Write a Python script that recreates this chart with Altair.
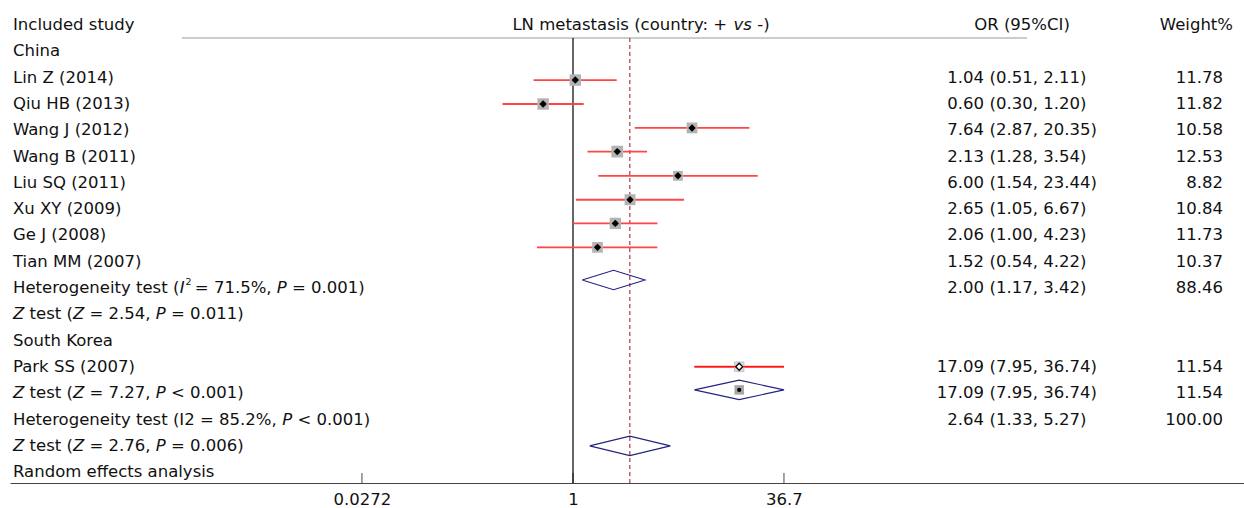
import math
import altair as alt
import pandas as pd

FONT = "DejaVu Sans"
FS = 16.5
SUP_FS = 9.5

# ---------------- data ----------------
study_names = ["Lin Z (2014)", "Qiu HB (2013)", "Wang J (2012)", "Wang B (2011)",
               "Liu SQ (2011)", "Xu XY (2009)", "Ge J (2008)", "Tian MM (2007)"]
study_or = [1.04, 0.60, 7.64, 2.13, 6.00, 2.65, 2.06, 1.52]
study_lo = [0.51, 0.30, 2.87, 1.28, 1.54, 1.05, 1.00, 0.54]
study_hi = [2.11, 1.20, 20.35, 3.54, 23.44, 6.67, 4.23, 4.22]
study_w = [11.78, 11.82, 10.58, 12.53, 8.82, 10.84, 11.73, 10.37]
study_text_row = [2, 3, 4, 5, 6, 7, 8, 9]
study_mark_row = [2.17, 3.08, 3.99, 4.89, 5.81, 6.72, 7.62, 8.53]

park_or, park_lo, park_hi, park_w = 17.09, 7.95, 36.74, 11.54
park_text_row, park_mark_row = 13, 13.07

pooled_names = ["China", "South Korea", "Overall"]
pooled_or = [2.00, 17.09, 2.64]
pooled_lo = [1.17, 7.95, 1.33]
pooled_hi = [3.42, 36.74, 5.27]
pooled_w = [88.46, 11.54, 100.00]
pooled_text_row = [10, 14, 15]
pooled_mark_row = [9.77, 13.95, 16.08]

tick_values = [0.0272, 1, 36.7]
null_value = 1

header_center = [("LN metastasis (country: + ", "n"), ("vs", "i"), (" -)", "n")]
header_or = "OR (95%CI)"
header_weight = "Weight%"

left_rows = [
    [("Included study", "n")],
    [("China", "n")],
    [("Lin Z (2014)", "n")],
    [("Qiu HB (2013)", "n")],
    [("Wang J (2012)", "n")],
    [("Wang B (2011)", "n")],
    [("Liu SQ (2011)", "n")],
    [("Xu XY (2009)", "n")],
    [("Ge J (2008)", "n")],
    [("Tian MM (2007)", "n")],
    [("Heterogeneity test (", "n"), ("I", "i"), ("2", "sup"), (" = 71.5%, ", "n"), ("P", "i"), (" = 0.001)", "n")],
    [("Z", "i"), (" test (", "n"), ("Z", "i"), (" = 2.54, ", "n"), ("P", "i"), (" = 0.011)", "n")],
    [("South Korea", "n")],
    [("Park SS (2007)", "n")],
    [("Z", "i"), (" test (", "n"), ("Z", "i"), (" = 7.27, ", "n"), ("P", "i"), (" < 0.001)", "n")],
    [("Heterogeneity test (I2 = 85.2%, ", "n"), ("P", "i"), (" < 0.001)", "n")],
    [("Z", "i"), (" test (", "n"), ("Z", "i"), (" = 2.76, ", "n"), ("P", "i"), (" = 0.006)", "n")],
    [("Random effects analysis", "n")],
]

# ---------------- layout helpers ----------------
W = {' ': 0.318, '%': 0.950, '(': 0.390, ')': 0.390, '+': 0.838, ',': 0.318, '-': 0.361,
     '.': 0.318, ':': 0.337, '<': 0.838, '=': 0.838, 'H': 0.752, 'I': 0.295, 'L': 0.557,
     'N': 0.748, 'P': 0.603, 'Z': 0.685, 'a': 0.613, 'c': 0.550, 'e': 0.615, 'g': 0.635,
     'i': 0.278, 'l': 0.278, 'm': 0.974, 'n': 0.634, 'o': 0.612, 'r': 0.411, 's': 0.521,
     't': 0.392, 'u': 0.634, 'v': 0.592, 'y': 0.592}
for d in "0123456789":
    W[d] = 0.636


def tw(s, fs=FS):
    return sum(W.get(c, 0.6) for c in s) * fs


PLOT_W, PLOT_H = 1234, 483
LEFT_X = 3
ROW0, ROW_H = 23.0, 26.3
TEXT_DY = 2
X_ONE = 563.0
PX_PER_LN = (784 - 362) / (math.log(36.7) - math.log(0.0272))
xmin = math.exp(-X_ONE / PX_PER_LN)
xmax = math.exp((PLOT_W - X_ONE) / PX_PER_LN)
ymin = -ROW0 / ROW_H
ymax = (PLOT_H - ROW0) / ROW_H

xscale = alt.Scale(type="log", domain=[xmin, xmax], nice=False)
yscale = alt.Scale(domain=[ymin, ymax], reverse=True, nice=False, zero=False)
xaxis = alt.Axis(values=tick_values, format="~g", title=None, grid=False, ticks=False,
                 domain=True, domainColor="#444444", domainWidth=1.2,
                 labelFont=FONT, labelFontSize=FS, labelColor="#111111",
                 labelPadding=8, labelFlush=False)

# text segments
recs = []
for r, segs in enumerate(left_rows):
    cur = LEFT_X
    for text, st in segs:
        fs = SUP_FS if st == "sup" else FS
        lead = len(text) - len(text.lstrip(" "))
        body = text.strip(" ")
        if st == "sup":
            recs.append(dict(row=r, px=cur + 1.0, text=body, style=st))
            cur += 5.0
        else:
            recs.append(dict(row=r, px=cur + tw(" " * lead, fs), text=body, style=st))
            cur += tw(text, fs)
hc_total = sum(tw(t) for t, _ in header_center)
cur = 631 - hc_total / 2
for text, st in header_center:
    lead = len(text) - len(text.lstrip(" "))
    recs.append(dict(row=0, px=cur + tw(" " * lead), text=text.strip(" "), style=st))
    cur += tw(text)
seg_df = pd.DataFrame(recs)

stat_row = study_text_row + [pooled_text_row[0], park_text_row, pooled_text_row[1], pooled_text_row[2]]
stat_or = study_or + [pooled_or[0], park_or, pooled_or[1], pooled_or[2]]
stat_lo = study_lo + [pooled_lo[0], park_lo, pooled_lo[1], pooled_lo[2]]
stat_hi = study_hi + [pooled_hi[0], park_hi, pooled_hi[1], pooled_hi[2]]
stat_w = study_w + [pooled_w[0], park_w, pooled_w[1], pooled_w[2]]
stat_df = pd.DataFrame({
    "row": stat_row,
    "est": [f"{v:.2f}" for v in stat_or],
    "ci": [f"({a:.2f}, {b:.2f})" for a, b in zip(stat_lo, stat_hi)],
    "wt": [f"{v:.2f}" for v in stat_w],
})

studies_df = pd.DataFrame({
    "name": study_names + ["Park SS (2007)"],
    "or": study_or + [park_or],
    "lo": study_lo + [park_lo],
    "hi": study_hi + [park_hi],
    "w": study_w + [park_w],
    "mrow": study_mark_row + [park_mark_row],
    "open": [False] * len(study_names) + [True],
})

H = 0.37
poly = []
for n, e, lo, hi, r in zip(pooled_names, pooled_or, pooled_lo, pooled_hi, pooled_mark_row):
    pts = [(lo, r), (e, r - H), (hi, r), (e, r + H), (lo, r)]
    for k, (xv, yv) in enumerate(pts):
        poly.append(dict(name=n, ord=k, x=xv, y=yv))
poly_df = pd.DataFrame(poly)

sk_df = pd.DataFrame({"or": [pooled_or[1]], "mrow": [pooled_mark_row[1]]})
vline_df = pd.DataFrame({"v": [null_value, pooled_or[2]], "kind": ["null", "pooled"]})
tick_df = pd.DataFrame({"v": tick_values})

# ---------------- layers ----------------
Y = lambda f: alt.Y(f, scale=yscale, axis=None)
X = lambda f: alt.X(f, scale=xscale, axis=xaxis)

ticks = alt.Chart(tick_df).mark_rule(color="#666666", strokeWidth=1.2).encode(
    x=X("v:Q"), y=alt.value(PLOT_H - 10), y2=alt.value(PLOT_H))

header_line = alt.Chart(pd.DataFrame({"a": [0]})).mark_rule(color="#bbbbbb", strokeWidth=1.5).encode(
    x=alt.value(172), x2=alt.value(1017), y=alt.value(38))

null_line = alt.Chart(vline_df).transform_filter("datum.kind == 'null'").mark_rule(
    color="#000000", strokeWidth=1.2).encode(x=X("v:Q"), y=alt.value(38), y2=alt.value(PLOT_H))
pooled_line = alt.Chart(vline_df).transform_filter("datum.kind == 'pooled'").mark_rule(
    color="#a52a2a", strokeWidth=1.1, strokeDash=[4, 3]).encode(
    x=X("v:Q"), y=alt.value(38), y2=alt.value(PLOT_H))

ci = alt.Chart(studies_df).mark_rule(color="#ff4545", strokeWidth=1.8).encode(
    x=X("lo:Q"), x2="hi:Q", y=Y("mrow:Q"))

sq = alt.Chart(studies_df).transform_filter("!datum.open").transform_calculate(
    sz="datum.w * 11").mark_square(filled=True, color="#b3b3b3", opacity=1).encode(
    x=X("or:Q"), y=Y("mrow:Q"), size=alt.Size("sz:Q", scale=None))
sq_open = alt.Chart(studies_df).transform_filter("datum.open").mark_square(
    filled=True, fill="#dcdcdc", stroke="#c4c4c4", strokeWidth=1, opacity=1, size=90).encode(
    x=X("or:Q"), y=Y("mrow:Q"))
ci_open = alt.Chart(studies_df).transform_filter("datum.open").mark_rule(
    color="#ff0000", strokeWidth=1.2).encode(x=X("lo:Q"), x2="hi:Q", y=Y("mrow:Q"))

dot = alt.Chart(studies_df).transform_filter("!datum.open").mark_point(
    shape="diamond", filled=True, color="#000000", size=55, opacity=1).encode(
    x=X("or:Q"), y=Y("mrow:Q"))
dot_open = alt.Chart(studies_df).transform_filter("datum.open").mark_point(
    shape="diamond", filled=True, fill="#ffffff", stroke="#000000", strokeWidth=1.2,
    size=50, opacity=1).encode(x=X("or:Q"), y=Y("mrow:Q"))

diamonds = alt.Chart(poly_df).mark_line(color="#22227f", strokeWidth=1.1).encode(
    x=X("x:Q"), y=Y("y:Q"), detail="name:N", order="ord:Q")

sk_sq = alt.Chart(sk_df).mark_square(filled=True, color="#a6a6a6", size=90, opacity=1).encode(
    x=X("or:Q"), y=Y("mrow:Q"))
sk_dot = alt.Chart(sk_df).mark_point(shape="circle", filled=True, color="#000000", size=18,
                                     opacity=1).encode(x=X("or:Q"), y=Y("mrow:Q"))

txt_common = dict(font=FONT, baseline="middle", color="#111111")
t_norm = alt.Chart(seg_df).transform_filter("datum.style == 'n'").mark_text(
    align="left", fontSize=FS, dy=TEXT_DY, **txt_common).encode(
    x=alt.X("px:Q", scale=None, axis=None), y=Y("row:Q"), text="text:N")
t_ital = alt.Chart(seg_df).transform_filter("datum.style == 'i'").mark_text(
    align="left", fontSize=FS, fontStyle="italic", dy=TEXT_DY, **txt_common).encode(
    x=alt.X("px:Q", scale=None, axis=None), y=Y("row:Q"), text="text:N")
t_sup = alt.Chart(seg_df).transform_filter("datum.style == 'sup'").mark_text(
    align="left", fontSize=SUP_FS, dy=TEXT_DY - 6, **txt_common).encode(
    x=alt.X("px:Q", scale=None, axis=None), y=Y("row:Q"), text="text:N")

t_est = alt.Chart(stat_df).mark_text(align="right", fontSize=FS, dy=TEXT_DY, **txt_common).encode(
    x=alt.value(974), y=Y("row:Q"), text="est:N")
t_ci = alt.Chart(stat_df).mark_text(align="left", fontSize=FS, dy=TEXT_DY, **txt_common).encode(
    x=alt.value(979.5), y=Y("row:Q"), text="ci:N")
t_wt = alt.Chart(stat_df).mark_text(align="right", fontSize=FS, dy=TEXT_DY, **txt_common).encode(
    x=alt.value(1213), y=Y("row:Q"), text="wt:N")

hdr_df = pd.DataFrame({"row": [0], "a": [header_or], "b": [header_weight]})
t_hor = alt.Chart(hdr_df).mark_text(align="center", fontSize=FS, dy=TEXT_DY, **txt_common).encode(
    x=alt.value(1012), y=Y("row:Q"), text="a:N")
t_hw = alt.Chart(hdr_df).mark_text(align="right", fontSize=FS, dy=TEXT_DY, **txt_common).encode(
    x=alt.value(1223), y=Y("row:Q"), text="b:N")

chart = alt.layer(
    ticks, header_line, null_line, pooled_line, ci, sq, sq_open, ci_open, dot, dot_open,
    diamonds, sk_sq, sk_dot, t_norm, t_ital, t_sup, t_est, t_ci, t_wt, t_hor, t_hw
).properties(
    width=PLOT_W, height=PLOT_H,
    padding={"left": 10, "right": 0, "top": 0, "bottom": 25},
    autosize=alt.AutoSizeParams(type="none"),
    background="#ffffff",
).configure_view(stroke=None)

chart.save("out.html", embed_options={"renderer": "svg", "actions": False})
